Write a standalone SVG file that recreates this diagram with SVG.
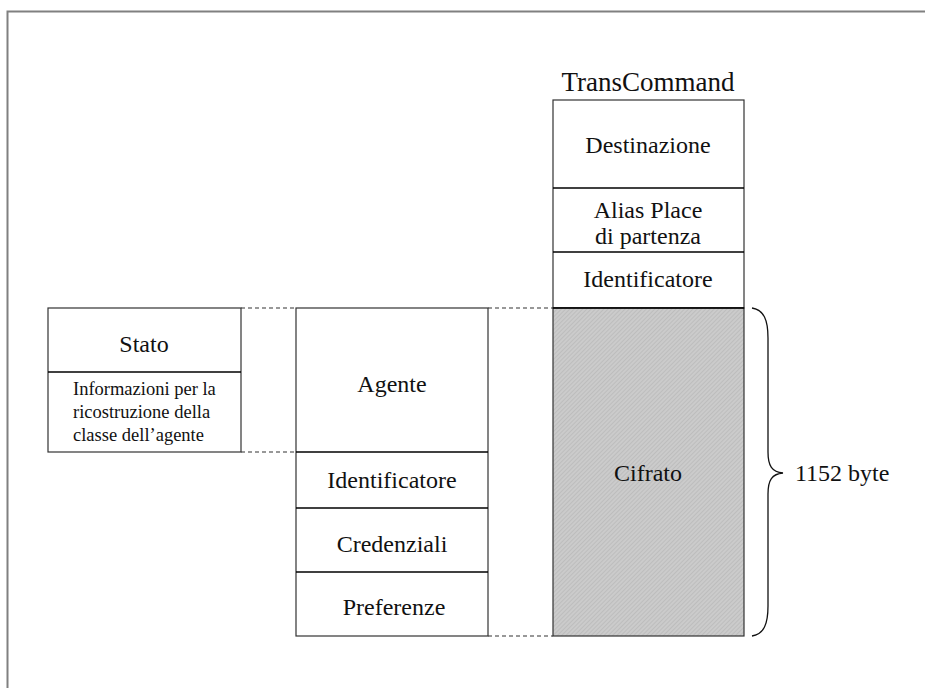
<svg xmlns="http://www.w3.org/2000/svg" width="925" height="688" viewBox="0 0 925 688">
  <style>
    .box { fill: #ffffff; stroke: #333333; stroke-width: 1.2; }
    .sep { stroke: #000000; stroke-width: 1.6; fill: none; }
    .dash { stroke: #333333; stroke-width: 1.2; stroke-dasharray: 4 3; fill: none; }
    .lbl { font-family: "Liberation Serif", "Times New Roman", serif; font-size: 24px; fill: #111111; text-anchor: middle; }
    .small { font-family: "Liberation Serif", "Times New Roman", serif; font-size: 18.5px; fill: #111111; }
    .title { font-family: "Liberation Serif", "Times New Roman", serif; font-size: 27px; fill: #111111; text-anchor: middle; }
  </style>
  <defs>
    <pattern id="hatch" width="3" height="3" patternUnits="userSpaceOnUse" patternTransform="rotate(45)">
      <rect width="3" height="3" fill="#cbcbcb"/>
      <line x1="0" y1="0" x2="0" y2="3" stroke="#b0b0b0" stroke-width="1"/>
    </pattern>
  </defs>

  <rect width="925" height="688" fill="#ffffff"/>
  <!-- frame -->
  <path d="M7.5 688 V11.5 H925" fill="none" stroke="#808080" stroke-width="2"/>

  <!-- dashed connectors between the columns -->
  <g id="connectors">
    <line class="dash" x1="241" y1="308" x2="296" y2="308"/>
    <line class="dash" x1="241" y1="452" x2="296" y2="452"/>
    <line class="dash" x1="488" y1="308" x2="553" y2="308"/>
    <line class="dash" x1="488" y1="636" x2="553" y2="636"/>
  </g>

  <!-- Stato block -->
  <g id="stato">
    <rect class="box" x="48" y="308" width="193" height="144"/>
    <line class="sep" x1="48" y1="372" x2="241" y2="372"/>
    <text class="lbl" x="144" y="352">Stato</text>
    <text class="small" x="73" y="395">Informazioni per la</text>
    <text class="small" x="73" y="418">ricostruzione della</text>
    <text class="small" x="73" y="441">classe dell’agente</text>
  </g>

  <!-- Agente block -->
  <g id="agente">
    <rect class="box" x="296" y="308" width="192" height="328"/>
    <line class="sep" x1="296" y1="452" x2="488" y2="452"/>
    <line class="sep" x1="296" y1="508" x2="488" y2="508"/>
    <line class="sep" x1="296" y1="572" x2="488" y2="572"/>
    <text class="lbl" x="392" y="392">Agente</text>
    <text class="lbl" x="392" y="488">Identificatore</text>
    <text class="lbl" x="392" y="552">Credenziali</text>
    <text class="lbl" x="394" y="615">Preferenze</text>
  </g>

  <!-- TransCommand block -->
  <g id="transcommand">
    <text class="title" x="648" y="91">TransCommand</text>
    <rect class="box" x="553" y="100" width="191" height="208"/>
    <line class="sep" x1="553" y1="188" x2="744" y2="188"/>
    <line class="sep" x1="553" y1="252" x2="744" y2="252"/>
    <text class="lbl" x="648" y="153">Destinazione</text>
    <text class="lbl" x="648" y="218">Alias Place</text>
    <text class="lbl" x="648" y="244">di partenza</text>
    <text class="lbl" x="648" y="287">Identificatore</text>
  </g>

  <!-- Cifrato block -->
  <g id="cifrato">
    <rect x="553" y="308" width="191" height="328" fill="url(#hatch)" stroke="#333333" stroke-width="1.2"/>
    <line class="sep" x1="553" y1="308" x2="744" y2="308"/>
    <text class="lbl" x="648" y="481">Cifrato</text>
  </g>

  <!-- size brace -->
  <g id="brace">
    <path d="M752 308 C764 310 768 320 768 338 V452 C768 466 772 472 783 473 C772 474 768 480 768 494 V606 C768 624 764 634 752 636" fill="none" stroke="#111111" stroke-width="1.3"/>
    <text x="795" y="481" font-family="'Liberation Serif', 'Times New Roman', serif" font-size="24px" fill="#111111">1152 byte</text>
  </g>
</svg>
